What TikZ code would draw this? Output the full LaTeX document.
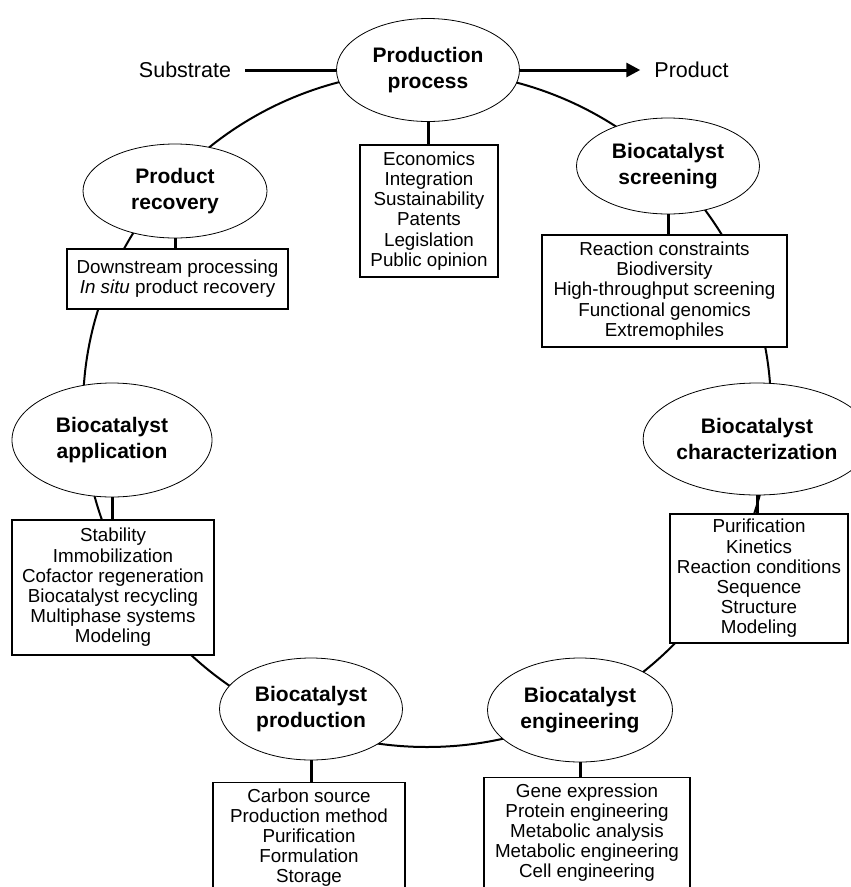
\documentclass[tikz,border=0pt]{standalone}
\usepackage{fontspec}
\setmainfont{Liberation Sans}
\usetikzlibrary{shapes.geometric,arrows.meta}

\tikzset{
  stage/.style={draw,ellipse,fill=white,line width=0.8pt,inner sep=0pt,align=center,
    font=\fontsize{21}{26.5}\selectfont\bfseries},
  topics/.style={draw,rectangle,fill=white,line width=1.2pt,inner sep=0pt,align=center,
    font=\fontsize{18.8}{20.2}\selectfont},
  label/.style={inner sep=0pt,inner xsep=14pt,font=\fontsize{21.5}{24}\selectfont},
  link/.style={line width=3pt},
  ring/.style={line width=2pt},
}

\begin{document}
\begin{tikzpicture}[x=1pt,y=-1pt]
    \useasboundingbox (0,0) rectangle (851,887);
    \coordinate (o) at (427,409);
    \draw[ring] (o) ellipse [x radius=344,y radius=338];

    \node[stage,minimum width=183pt,minimum height=103pt] (a) at (428,70) {Production\\process};
    \node[stage,minimum width=184pt,minimum height=94pt] (b) at (175,191) {Product\\recovery};
    \node[stage,minimum width=183pt,minimum height=96pt] (c) at (668,166) {Biocatalyst\\screening};
    \node[stage,minimum width=190pt,minimum height=112pt] (d) at (757,439) {Biocatalyst\\characterization};
    \node[stage,minimum width=185pt,minimum height=104pt] (e) at (580,710) {Biocatalyst\\engineering};
    \node[stage,minimum width=183pt,minimum height=102pt] (f) at (311,709) {Biocatalyst\\production};
    \node[stage,minimum width=200pt,minimum height=114pt] (g) at (112,440) {Biocatalyst\\application};

    \node[topics,minimum width=138pt,minimum height=132pt] (A) at (429,211)
        {Economics\\Integration\\Sustainability\\Patents\\Legislation\\Public opinion};
    \node[topics,minimum width=221pt,minimum height=60pt] (B) at (177.5,279)
        {Downstream processing\\\textit{In situ} product recovery};
    \node[topics,minimum width=245pt,minimum height=112pt] (C) at (664.5,291)
        {Reaction constraints\\Biodiversity\\High-throughput screening\\Functional genomics\\Extremophiles};
    \node[topics,minimum width=178pt,minimum height=129pt] (D) at (759,578.5)
        {Purification\\Kinetics\\Reaction conditions\\Sequence\\Structure\\Modeling};
    \node[topics,minimum width=206pt,minimum height=110pt,anchor=north] (E) at (587,777)
        {Gene expression\\Protein engineering\\Metabolic analysis\\Metabolic engineering\\Cell engineering};
    \node[topics,minimum width=192pt,minimum height=110pt,anchor=north] (F) at (309,782)
        {Carbon source\\Production method\\Purification\\Formulation\\Storage};
    \node[topics,minimum width=202pt,minimum height=135pt] (G) at (113,587.5)
        {Stability\\Immobilization\\Cofactor regeneration\\Biocatalyst recycling\\Multiphase systems\\Modeling};

    \foreach \s/\t in {a/A,b/B,c/C,d/D,e/E,f/F,g/G}
        \draw[link] (\s.south) -- (\s.south |- \t.north);

    \node[label] (sub) at (185,70) {Substrate};
    \node[label] (pt) at (691.5,70) {Product};
    \draw[link] (sub) -- (a);
    \draw[link,-{Triangle[length=14pt,width=14pt]}] (a) -- (pt);
\end{tikzpicture}
\end{document}
